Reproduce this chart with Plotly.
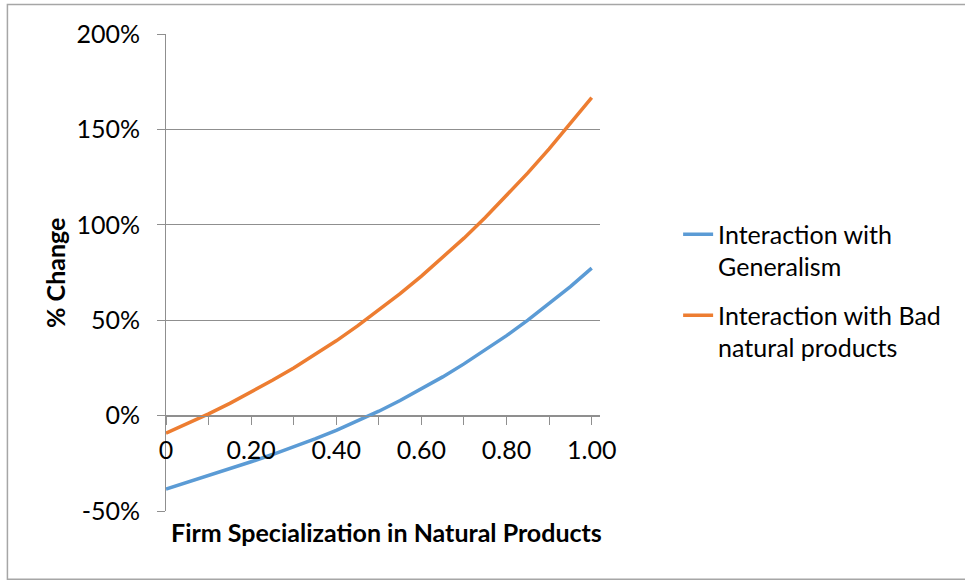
import plotly.graph_objects as go

# ---- data ----
x_vals = [0.00, 0.05, 0.10, 0.15, 0.20, 0.25, 0.30, 0.35, 0.40, 0.45, 0.50,
          0.55, 0.60, 0.65, 0.70, 0.75, 0.80, 0.85, 0.90, 0.95, 1.00]
generalism = [-38.5, -35.0, -31.5, -27.9, -24.2, -20.4, -16.4, -12.2, -7.7, -2.9, 2.3,
              7.9, 13.9, 20.3, 27.1, 34.3, 41.9, 50.0, 58.6, 67.6, 77.3]
bad_natural = [-9.2, -4.3, 0.9, 6.4, 12.3, 18.5, 25.0, 31.9, 39.2, 47.0, 55.2,
               63.9, 73.1, 82.8, 93.0, 103.8, 115.2, 127.2, 139.8, 153.0, 166.7]
series_names = ["Interaction with<br>Generalism", "Interaction with Bad<br>natural products"]
series_colors = ["#5B9BD5", "#ED7D31"]
x_tickvals = [0.0, 0.1, 0.2, 0.3, 0.4, 0.5, 0.6, 0.7, 0.8, 0.9, 1.0]
x_ticktext = ["0", "", "0.20", "", "0.40", "", "0.60", "", "0.80", "", "1.00"]
y_tickvals = [-50, 0, 50, 100, 150, 200]
y_ticktext = ["-50%", "0%", "50%", "100%", "150%", "200%"]

FONT = "Lato, Carlito, Calibri, sans-serif"
GRID = "#8f8f8f"
FS = 25

fig = go.Figure()
for i, (name, ys) in enumerate(zip(series_names, [generalism, bad_natural])):
    fig.add_trace(go.Scatter(
        x=x_vals, y=ys, mode="lines", name=name, legendgroup=f"g{i}",
        line=dict(color=series_colors[i], width=3.5),
    ))

fig.update_layout(
    width=965, height=580,
    margin=dict(l=166, r=365, t=34, b=69),
    paper_bgcolor="white", plot_bgcolor="white",
    font=dict(family=FONT, size=FS, color="#000000"),
    showlegend=True,
    legend=dict(
        x=1.18, y=0.628, xanchor="left", yanchor="top",
        font=dict(family=FONT, size=FS, color="#000000"),
        valign="top", tracegroupgap=13, bgcolor="rgba(0,0,0,0)",
    ),
    xaxis=dict(
        range=[0, 1.0195], anchor="free", position=0.2,
        tickvals=x_tickvals, ticktext=x_ticktext,
        ticks="outside", ticklen=8, tickcolor=GRID, tickwidth=1,
        showline=True, linecolor=GRID, linewidth=1,
        showgrid=False, zeroline=False,
        ticklabelstandoff=4,
        tickfont=dict(family=FONT, size=FS, color="#000000"),
    ),
    yaxis=dict(
        range=[-50, 200], tickvals=y_tickvals, ticktext=y_ticktext,
        ticks="outside", ticklen=8, tickcolor=GRID, tickwidth=1,
        showline=True, linecolor=GRID, linewidth=1,
        showgrid=True, gridcolor=GRID, gridwidth=1, zeroline=False,
        ticklabelstandoff=12,
        tickfont=dict(family=FONT, size=FS, color="#000000"),
    ),
    annotations=[
        dict(text="<b>Firm Specialization in Natural Products</b>", xref="paper", yref="paper",
             x=0.508, y=-0.043, xanchor="center", yanchor="middle", showarrow=False,
             font=dict(family=FONT, size=FS, color="#000000")),
        dict(text="<b>% Change</b>", xref="paper", yref="paper", textangle=-90,
             x=-0.257, y=0.5, xanchor="center", yanchor="middle", showarrow=False,
             font=dict(family=FONT, size=FS, color="#000000")),
    ],
    shapes=[
        dict(type="rect", xref="paper", yref="paper", x0=-0.3654, x1=1.87, y0=-0.1433, y1=1.0619,
             line=dict(color="#a6a6a6", width=1.5), layer="below"),
    ],
)

fig.write_html("out.html")
